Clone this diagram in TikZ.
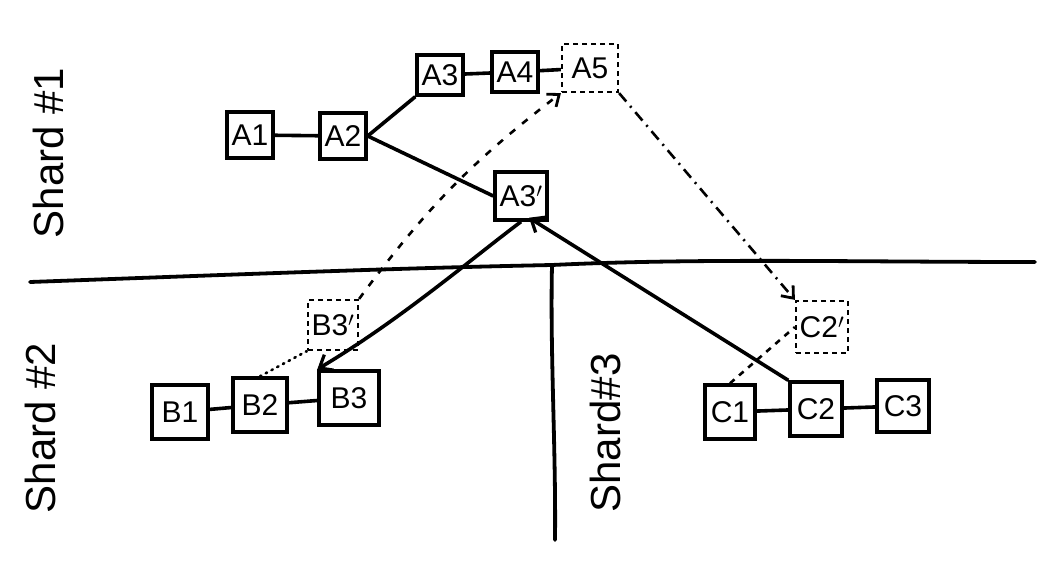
\documentclass[tikz,border=0pt]{standalone}
\usepackage{fontspec}
\setmainfont{Liberation Sans}
\usetikzlibrary{arrows.meta,decorations.pathmorphing}
\begin{document}
\begin{tikzpicture}[x=1pt,y=-1pt,
  box/.style={draw,line width=3.4pt,minimum width=46pt,minimum height=46pt,inner sep=2pt,font=\fontsize{30}{32}\selectfont},
  ghost/.style={box,line width=2.2pt,dash pattern=on 5pt off 4pt},
  link/.style={line width=3.6pt},
  flow/.style={line width=3.6pt,-{Straight Barb[length=11pt,width=18pt,line width=3.2pt]}},
  hint/.style={line width=2.6pt,dash pattern=on 7pt off 9pt,-{Straight Barb[length=10pt,width=16pt,line width=2.8pt]}},
  hint2/.style={line width=2.6pt,dash pattern=on 11pt off 6pt on 2pt off 6pt,-{Straight Barb[length=10pt,width=16pt,line width=2.8pt]}},
  dots/.style={line width=2.6pt,dash pattern=on 1.5pt off 5pt,line cap=round},
  shard/.style={rotate=90,font=\fontsize{42}{46}\selectfont},
  border/.style={line width=3.8pt,line cap=round}]
\useasboundingbox (0,0) rectangle (1058,568);

% shard separators
\coordinate (h1) at (30,282);
\coordinate (h2) at (1035,262);
\coordinate (v1) at (552,266);
\coordinate (v2) at (555,540);
\draw[border] (h1) .. controls (250,274) and (400,268) .. (552,265)
  .. controls (700,258) and (850,262) .. (h2);
\draw[border] (v1) .. controls (550,350) and (556,450) .. (v2);

% shard labels
\node[shard] (s1) at (48,153) {Shard \#1};
\node[shard] (s2) at (40,428) {Shard \#2};
\node[shard] (s3) at (605,433) {Shard\#3};

% shard 1
\node[box] (a1) at (250,135) {A1};
\node[box] (a2) at (343,136) {A2};
\node[box,minimum width=46pt,minimum height=40pt] (a3) at (440,75) {A3};
\node[box,minimum width=46pt,minimum height=40pt] (a4) at (515,72) {A4};
\node[ghost,minimum width=56pt,minimum height=48pt] (a5) at (590,68) {A5};
\node[box,minimum width=52pt,minimum height=48pt] (a3p) at (521,196) {A3$'$};

% shard 2
\node[ghost,minimum width=50pt,minimum height=50pt] (b3p) at (333,325) {B3$'$};
\node[box,minimum width=56pt,minimum height=54pt] (b1) at (180,412) {B1};
\node[box,minimum width=54pt,minimum height=54pt] (b2) at (260,405) {B2};
\node[box,minimum width=60pt,minimum height=54pt] (b3) at (349,398) {B3};

% shard 3
\node[ghost,minimum width=52pt,minimum height=52pt] (c2p) at (822,327) {C2$'$};
\node[box,minimum width=50pt,minimum height=54pt] (c1) at (730,412) {C1};
\node[box,minimum width=52pt,minimum height=54pt] (c2) at (816,409) {C2};
\node[box,minimum width=52pt,minimum height=52pt] (c3) at (903,406) {C3};

% chains
\draw[link] (a1) -- (a2);
\draw[link] (a2.east) -- (a3.south west);
\draw[link] (a3) -- (a4);
\draw[link] (a4) -- (a5);
\draw[link] (a2.east) -- (a3p.west);
\draw[link] (b1) -- (b2);
\draw[link] (b2) -- (b3);
\draw[link] (c1) -- (c2);
\draw[link] (c2) -- (c3);

% moves
\draw[flow] (a3p.south) .. controls (470,260) and (400,320) .. (b3.north west);
\draw[flow] (c2.north west) -- ([xshift=8pt,yshift=4pt]a3p.south);
\draw[hint] (b3p.north east) to[bend left=8] (a5.south west);
\draw[hint2] (a5.south east) -- (c2p.north west);
\draw[dots] (b2.north) -- (b3p.south west);
\draw[line width=2.6pt,dash pattern=on 6pt off 6pt] (c1.north) -- (c2p.west);
\end{tikzpicture}
\end{document}
